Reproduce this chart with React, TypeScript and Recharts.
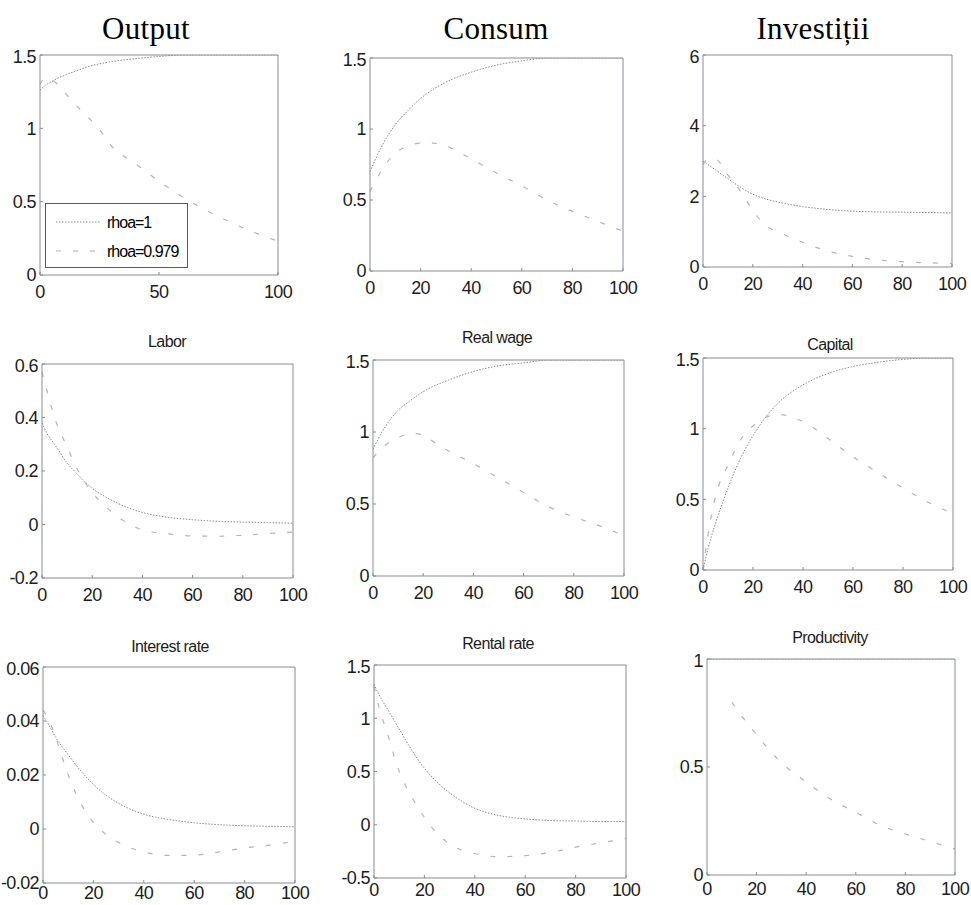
import { LineChart, Line, XAxis, YAxis } from "recharts";

// impulse responses, horizon 0..100 quarters
const steps = [0, 2, 5, 10, 15, 20, 25, 30, 40, 50, 60, 70, 80, 90, 100];

const outputA = [1.26, 1.29, 1.32, 1.36, 1.39, 1.42, 1.44, 1.455, 1.475, 1.49, 1.5, 1.5, 1.5, 1.5, 1.5];
const outputB = [1.3, 1.34, 1.33, 1.25, 1.16, 1.08, 0.99, 0.88, 0.76, 0.64, 0.53, 0.44, 0.36, 0.29, 0.23];

const consumA = [0.7, 0.78, 0.89, 1.03, 1.13, 1.215, 1.28, 1.33, 1.4, 1.45, 1.48, 1.5, 1.5, 1.5, 1.5];
const consumB = [0.56, 0.63, 0.72, 0.83, 0.88, 0.9, 0.9, 0.88, 0.79, 0.69, 0.6, 0.5, 0.42, 0.35, 0.28];

const investA = [3.0, 2.9, 2.75, 2.5, 2.26, 2.06, 1.93, 1.84, 1.71, 1.63, 1.58, 1.56, 1.55, 1.54, 1.53];
const investB = [2.9, 3.05, 3.05, 2.6, 2.15, 1.6, 1.18, 1.0, 0.7, 0.45, 0.3, 0.2, 0.15, 0.12, 0.1];

const laborA = [0.38, 0.34, 0.3, 0.23, 0.18, 0.135, 0.105, 0.08, 0.045, 0.027, 0.018, 0.012, 0.009, 0.007, 0.005];
const laborB = [0.57, 0.5, 0.4, 0.29, 0.19, 0.12, 0.07, 0.03, -0.02, -0.035, -0.043, -0.044, -0.04, -0.034, -0.028];

const wageA = [0.88, 0.95, 1.04, 1.15, 1.22, 1.28, 1.325, 1.36, 1.42, 1.46, 1.48, 1.5, 1.5, 1.5, 1.5];
const wageB = [0.82, 0.86, 0.91, 0.96, 0.99, 0.98, 0.92, 0.87, 0.78, 0.68, 0.58, 0.48, 0.41, 0.35, 0.28];

const capitalA = [0, 0.15, 0.33, 0.58, 0.79, 0.95, 1.08, 1.18, 1.31, 1.39, 1.44, 1.47, 1.49, 1.5, 1.5];
const capitalB = [0, 0.25, 0.52, 0.74, 0.92, 1.02, 1.08, 1.1, 1.05, 0.93, 0.8, 0.69, 0.58, 0.48, 0.4];

const interestA = [0.042, 0.039, 0.034, 0.0275, 0.0215, 0.0165, 0.0125, 0.0095, 0.0055, 0.0035, 0.0023, 0.0016, 0.0012, 0.001, 0.0008];
const interestB = [0.044, 0.041, 0.034, 0.02, 0.0095, 0.0025, -0.002, -0.005, -0.0085, -0.0098, -0.0097, -0.0085, -0.007, -0.006, -0.0045];

const rentalA = [1.32, 1.22, 1.1, 0.9, 0.7, 0.53, 0.4, 0.3, 0.155, 0.085, 0.055, 0.04, 0.035, 0.03, 0.03];
const rentalB = [1.3, 1.1, 0.88, 0.5, 0.26, 0.07, -0.08, -0.18, -0.27, -0.3, -0.29, -0.26, -0.21, -0.17, -0.13];

const prodA = [1, 1, 1, 1, 1, 1, 1, 1, 1, 1, 1, 1, 1, 1, 1];
const prodB = [null, null, null, 0.8, 0.72, 0.65, 0.58, 0.52, 0.43, 0.35, 0.29, 0.23, 0.19, 0.155, 0.12];

const seriesNames = ["rhoa=1", "rhoa=0.979"];

const ticks20 = [0, 20, 40, 60, 80, 100];
const ticks50 = [0, 50, 100];
const ticksLevel = [0, 0.5, 1, 1.5];

const AXIS = "#858b98";
const LINE_A = "#8a8a8a";
const LINE_B = "#b4b4b4";

const M = { top: 8, right: 20, bottom: 0, left: 0 };
const AXL = 50;
const AXR = 1;
const AXT = 1;
const AXB = 32;

type Box = [number, number, number, number];

type PanelProps = {
  box: Box;
  a: (number | null)[];
  b: (number | null)[];
  yDomain: [number, number];
  yTicks: number[];
  xTicks: number[];
  xGap?: number;
};

function Panel({ box, a, b, yDomain, yTicks, xTicks, xGap = 13 }: PanelProps) {
  const [x, y, w, h] = box;
  const rows = steps.map((t, i) => ({ t, a: a[i], b: b[i] }));
  const axisCommon = { stroke: AXIS, tickSize: -3, axisLine: { stroke: AXIS }, tickLine: { stroke: AXIS } };
  return (
    <div
      style={{
        position: "absolute",
        left: x - AXL,
        top: y - M.top - AXT,
        fontFamily: "'Liberation Sans', Arial, sans-serif",
        letterSpacing: "-0.6px",
      }}
    >
      <LineChart
        width={w + AXL + AXR + M.right}
        height={h + M.top + AXT + AXB}
        data={rows}
        margin={M}
      >
        <XAxis
          dataKey="t"
          type="number"
          domain={[0, 100]}
          ticks={xTicks}
          height={AXB}
          tickMargin={xGap}
          tick={{ fontSize: 18, fill: "#1c1c1c" }}
          {...axisCommon}
        />
        <XAxis
          xAxisId="top"
          orientation="top"
          dataKey="t"
          type="number"
          domain={[0, 100]}
          ticks={xTicks}
          height={AXT}
          tick={false}
          {...axisCommon}
        />
        <YAxis
          type="number"
          domain={yDomain}
          ticks={yTicks}
          width={AXL}
          allowDataOverflow
          tickMargin={7}
          tick={{ fontSize: 18, fill: "#1c1c1c" }}
          {...axisCommon}
        />
        <YAxis
          yAxisId="right"
          orientation="right"
          type="number"
          domain={yDomain}
          ticks={yTicks}
          width={AXR}
          allowDataOverflow
          tick={false}
          {...axisCommon}
        />
        <Line
          dataKey="a"
          name={seriesNames[0]}
          type="monotone"
          stroke={LINE_A}
          strokeWidth={1}
          strokeDasharray="1.5 1.5"
          dot={false}
          isAnimationActive={false}
        />
        <Line
          dataKey="b"
          name={seriesNames[1]}
          type="monotone"
          stroke={LINE_B}
          strokeWidth={1.2}
          strokeDasharray="5 12"
          dot={false}
          isAnimationActive={false}
        />
      </LineChart>
    </div>
  );
}

function Title({ text, cx, baseline, big }: { text: string; cx: number; baseline: number; big?: boolean }) {
  const size = big ? 31 : 16;
  const shift = big ? 26 : 13.5;
  return (
    <div
      style={{
        position: "absolute",
        left: cx - 150,
        width: 300,
        top: baseline - shift,
        textAlign: "center",
        fontSize: size,
        lineHeight: `${size}px`,
        color: big ? "#000" : "#1c1c1c",
        fontFamily: big ? "'Liberation Serif', 'Times New Roman', serif" : "'Liberation Sans', Arial, sans-serif",
        letterSpacing: big ? "0.3px" : "-0.6px",
        whiteSpace: "nowrap",
      }}
    >
      {text}
    </div>
  );
}

function LegendBox() {
  return (
    <div
      style={{
        position: "absolute",
        left: 45,
        top: 203,
        width: 141,
        height: 63,
        border: "1px solid #5a5a5a",
        background: "#fff",
        fontFamily: "'Liberation Sans', Arial, sans-serif",
        fontSize: 16,
        letterSpacing: "-1px",
        color: "#1c1c1c",
      }}
    >
      <svg width={141} height={63} style={{ position: "absolute", left: 0, top: 0 }}>
        <line x1={10} x2={55} y1={18} y2={18} stroke={LINE_A} strokeDasharray="1.5 1.5" />
        <line x1={10} x2={55} y1={47} y2={47} stroke={LINE_B} strokeWidth={1.2} strokeDasharray="5 12" />
        <text x={61} y={24}>{seriesNames[0]}</text>
        <text x={61} y={53}>{seriesNames[1]}</text>
      </svg>
    </div>
  );
}

export default function App() {
  return (
    <div style={{ position: "absolute", left: 0, top: 0, width: 971, height: 905, background: "#fff", overflow: "hidden" }}>
      <Title text="Output" cx={146} baseline={39} big />
      <Title text="Consum" cx={496} baseline={39} big />
      <Title text="Investiții" cx={813} baseline={39} big />
      <Title text="Labor" cx={167} baseline={347} />
      <Title text="Real wage" cx={497} baseline={343} />
      <Title text="Capital" cx={830} baseline={350} />
      <Title text="Interest rate" cx={170} baseline={652} />
      <Title text="Rental rate" cx={498} baseline={649} />
      <Title text="Productivity" cx={830} baseline={643} />

      <Panel box={[40, 55, 238, 220]} a={outputA} b={outputB} yDomain={[0, 1.5]} yTicks={ticksLevel} xTicks={ticks50} />
      <Panel box={[370, 58, 253, 213]} a={consumA} b={consumB} yDomain={[0, 1.5]} yTicks={ticksLevel} xTicks={ticks20} />
      <Panel box={[703, 55, 249, 212]} a={investA} b={investB} yDomain={[0, 6]} yTicks={[0, 2, 4, 6]} xTicks={ticks20} />

      <Panel box={[42, 364, 251, 214]} a={laborA} b={laborB} yDomain={[-0.2, 0.6]} yTicks={[-0.2, 0, 0.2, 0.4, 0.6]} xTicks={ticks20} />
      <Panel box={[373, 360, 251, 216]} a={wageA} b={wageB} yDomain={[0, 1.5]} yTicks={ticksLevel} xTicks={ticks20} />
      <Panel box={[703, 358, 250, 212]} a={capitalA} b={capitalB} yDomain={[0, 1.5]} yTicks={ticksLevel} xTicks={ticks20} />

      <Panel box={[43, 667, 252, 216]} a={interestA} b={interestB} yDomain={[-0.02, 0.06]} yTicks={[-0.02, 0, 0.02, 0.04, 0.06]} xTicks={ticks20} xGap={6} />
      <Panel box={[374, 665, 252, 213]} a={rentalA} b={rentalB} yDomain={[-0.5, 1.5]} yTicks={[-0.5, 0, 0.5, 1, 1.5]} xTicks={ticks20} xGap={8} />
      <Panel box={[707, 659, 248, 216]} a={prodA} b={prodB} yDomain={[0, 1]} yTicks={[0, 0.5, 1]} xTicks={ticks20} xGap={10} />

      <LegendBox />
    </div>
  );
}
